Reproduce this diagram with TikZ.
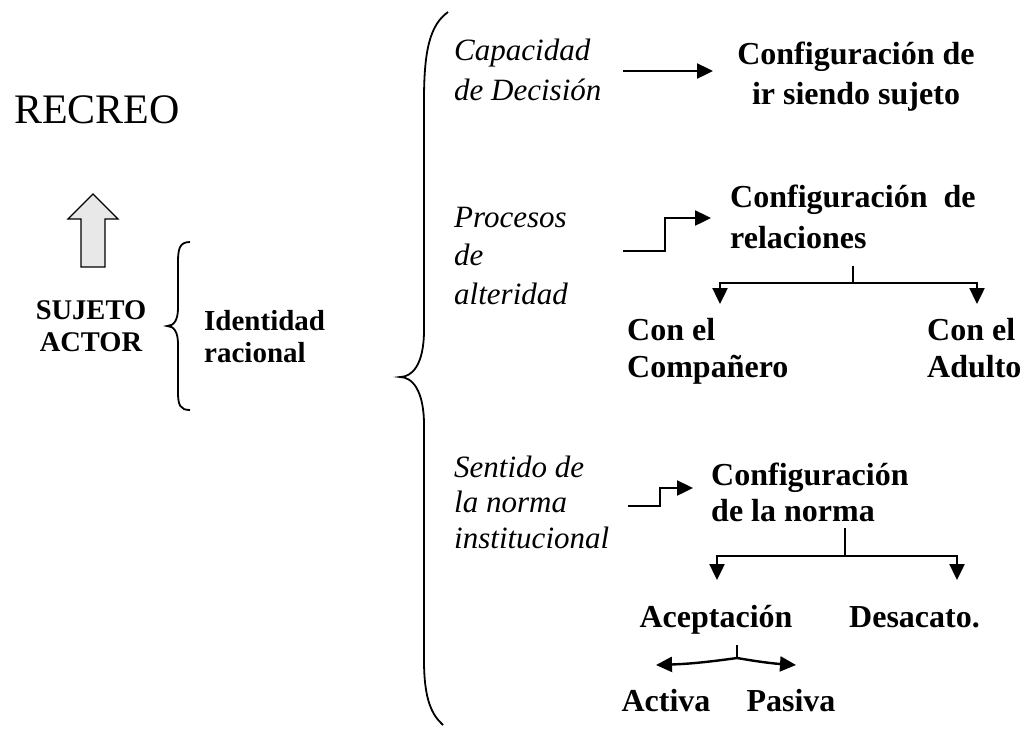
\documentclass[tikz,border=0pt]{standalone}
\usepackage{fontspec}
\setmainfont{Liberation Serif}
\usetikzlibrary{arrows.meta}
\begin{document}
\begin{tikzpicture}[x=1pt,y=-1pt,
  bt/.style={font=\bfseries\fontsize{32}{40}\selectfont, inner sep=0pt, align=left},
  it/.style={font=\itshape\fontsize{31}{38}\selectfont, inner sep=0pt, align=left},
  conn/.style={line width=2.4pt},
  arr/.style={conn, -{Triangle[length=16pt,width=15pt]}},
  brace/.style={line width=1.8pt},
  blockarrow/.style={draw=black, line width=1.4pt, fill=gray!18}
]
\useasboundingbox (0,0) rectangle (1025,729);

% left part
\node[anchor=base west, inner sep=0pt, font=\fontsize{42}{48}\selectfont] (recreo) at (14,123) {RECREO};
\draw[blockarrow] (81,267) -- (81,219) -- (68,219) -- (93,194) -- (118,219) -- (105,219) -- (105,267) -- cycle;
\node[bt, align=center, anchor=north, font=\bfseries\fontsize{28.5}{32}\selectfont] (sujeto) at (91,300) {SUJETO\\ACTOR};
\draw[brace] (190,242) .. controls (180,242) and (178,248) .. (178,262) -- (178,308)
  .. controls (178,320) and (174,326) .. (167,326)
  .. controls (174,326) and (178,332) .. (178,344) -- (178,392)
  .. controls (178,405) and (180,410) .. (190,410);
\node[bt, anchor=north west, font=\bfseries\fontsize{29}{32}\selectfont] (ident) at (204,310) {Identidad\\racional};

% big brace
\draw[brace] (448,12) .. controls (430,25) and (424,50) .. (424,100) -- (424,330)
  .. controls (424,365) and (412,377) .. (400,377)
  .. controls (412,377) and (424,390) .. (424,425) -- (424,660)
  .. controls (424,700) and (432,715) .. (443,725);

% branch 1
\node[it, anchor=west, font=\itshape\fontsize{31}{40}\selectfont] (cap) at (454,70) {Capacidad\\de Decisión};
\node[bt, align=center] (conf1) at (856,77) {Configuración de\\ir siendo sujeto};
\coordinate (a1s) at (623,71);
\coordinate (a1e) at (713,71);
\draw[arr] (a1s) -- (a1e);

% branch 2
\node[it, anchor=west, font=\itshape\fontsize{31}{38.5}\selectfont] (proc) at (454,256) {Procesos\\de\\alteridad};
\node[bt, anchor=west, font=\bfseries\fontsize{32}{41}\selectfont] (conf2) at (730,217) {Configuración~~de\\relaciones};
\coordinate (a2s) at (623,251);
\coordinate (a2m) at (665,218);
\coordinate (a2e) at (711,218);
\draw[arr] (a2s) -| (a2m) -- (a2e);
\coordinate (t1a) at (853,266);
\coordinate (t1b) at (853,283);
\coordinate (t1l) at (720,304);
\coordinate (t1r) at (977,304);
\draw[conn] (t1a) -- (t1b);
\draw[arr] (t1b) -| (t1l);
\draw[arr] (t1b) -| (t1r);
\node[bt, anchor=north west, font=\bfseries\fontsize{32}{37}\selectfont] (comp) at (627,318) {Con el\\Compañero};
\node[bt, anchor=north west, font=\bfseries\fontsize{32}{37}\selectfont] (adul) at (927,318) {Con el\\Adulto};

% branch 3
\node[it, anchor=west, font=\itshape\fontsize{31}{35.5}\selectfont] (sent) at (454,502) {Sentido de\\la norma\\institucional};
\node[bt, anchor=west, font=\bfseries\fontsize{32}{36}\selectfont] (conf3) at (711,492) {Configuración\\de la norma};
\coordinate (a3s) at (628,506);
\coordinate (a3m) at (660,488);
\coordinate (a3e) at (693,488);
\draw[arr] (a3s) -| (a3m) -- (a3e);
\coordinate (t2a) at (845,528);
\coordinate (t2b) at (845,556);
\coordinate (t2l) at (717,580);
\coordinate (t2r) at (957,580);
\draw[conn] (t2a) -- (t2b);
\draw[arr] (t2b) -| (t2l);
\draw[arr] (t2b) -| (t2r);
\node[bt, anchor=base] (acep) at (716,627) {Aceptación};
\node[bt, anchor=base west] (desa) at (849,627) {Desacato.};
\coordinate (t3a) at (737,645);
\coordinate (t3b) at (737,658);
\coordinate (t3l) at (656,665);
\coordinate (t3r) at (796,665);
\draw[conn] (t3a) -- (t3b);
\draw[arr] (t3b) to[bend left=3] (t3l);
\draw[arr] (t3b) to[bend right=3] (t3r);
\node[bt, anchor=base] (act) at (666,711) {Activa};
\node[bt, anchor=base] (pas) at (791,711) {Pasiva};
\end{tikzpicture}
\end{document}
